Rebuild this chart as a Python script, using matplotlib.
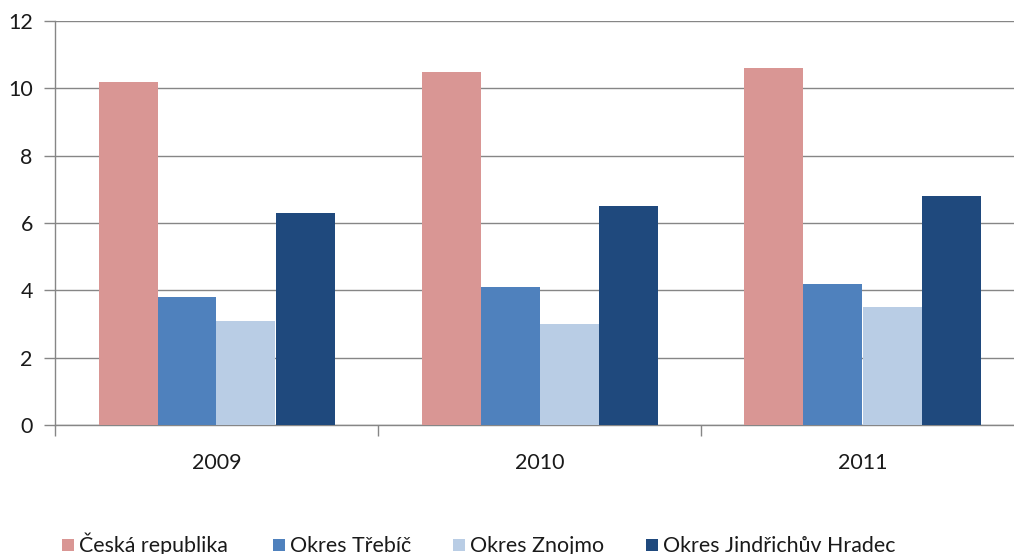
import matplotlib
matplotlib.use("Agg")
import matplotlib.pyplot as plt
from matplotlib.patches import Rectangle
import numpy as np

plt.rcParams['font.family'] = ['Lato', 'DejaVu Sans']

years = ["2009", "2010", "2011"]
series_names = ["Česká republika", "Okres Třebíč", "Okres Znojmo", "Okres Jindřichův Hradec"]
ceska_republika = [10.2, 10.5, 10.6]
okres_trebic = [3.8, 4.1, 4.2]
okres_znojmo = [3.1, 3.0, 3.5]
okres_jh = [6.3, 6.5, 6.8]
series_values = [ceska_republika, okres_trebic, okres_znojmo, okres_jh]
colors = ["#D99694", "#4F81BD", "#B9CDE5", "#1F497D"]
yticks = [0, 2, 4, 6, 8, 10, 12]

W, H = 1014, 554
fig = plt.figure(figsize=(W / 100, H / 100), dpi=100)
left_px, right_px, top_px, bottom_px = 55, 1024, 21, 425
ax = fig.add_axes([left_px / W, 1 - bottom_px / H, (right_px - left_px) / W, (bottom_px - top_px) / H])

grid_color = "#868686"
fs = 15.4
bw = 59 / 323
x = np.arange(len(years)) + 0.5
for k, (vals, c) in enumerate(zip(series_values, colors)):
    ax.bar(x + (k - 1.5) * bw, vals, width=bw, color=c, edgecolor='none', zorder=3)

ax.set_xlim(0, 3)
ax.set_ylim(0, 12)
ax.set_yticks(yticks)
ax.set_yticklabels([str(v) for v in yticks], fontsize=fs, color="#1a1a1a")
ax.yaxis.grid(True, color=grid_color, linewidth=1.0, zorder=0)
ax.set_axisbelow(True)

ax.set_xticks([0, 1, 2, 3])
ax.set_xticklabels([])
ax.set_xticks(x, minor=True)
ax.set_xticklabels(years, minor=True, fontsize=fs, color="#1a1a1a")
ax.tick_params(axis='x', which='major', length=8, width=1, color=grid_color, direction='out')
ax.tick_params(axis='x', which='minor', length=0, pad=20)
ax.tick_params(axis='y', length=8, width=1, color=grid_color, direction='out', pad=8)

for s in ['top', 'right']:
    ax.spines[s].set_visible(False)
for s in ['left', 'bottom']:
    ax.spines[s].set_color(grid_color)
    ax.spines[s].set_linewidth(1.0)

# legend (manual layout)
marker_x = [62, 273, 453, 646]
for mx, name, c in zip(marker_x, series_names, colors):
    fig.add_artist(Rectangle((mx / W, 1 - 551 / H), 12 / W, 12 / H,
                             transform=fig.transFigure, facecolor=c, edgecolor='none'))
    fig.text((mx + 17) / W, 1 - 552 / H, name, fontsize=fs, color="#1a1a1a",
             ha='left', va='baseline')

fig.savefig("out.png", dpi=100)
